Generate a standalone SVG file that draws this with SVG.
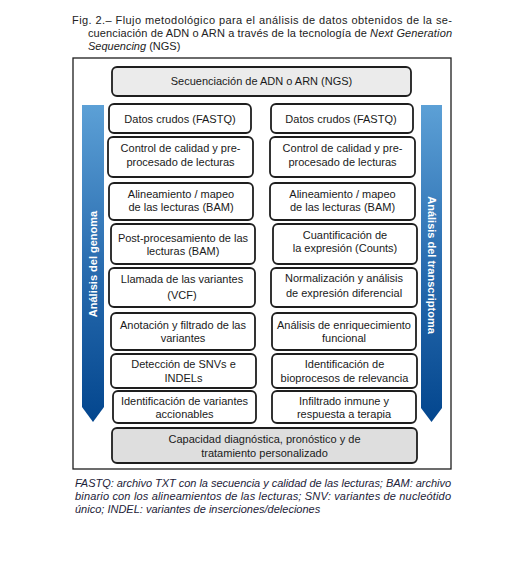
<svg xmlns="http://www.w3.org/2000/svg" width="511" height="567" viewBox="0 0 511 567">
<defs>
<linearGradient id="bar" x1="0" y1="0" x2="0" y2="1">
<stop offset="0" stop-color="#5ca0d6"/>
<stop offset="0.5" stop-color="#2a6db0"/>
<stop offset="1" stop-color="#03468e"/>
</linearGradient>
<style>
text{font-family:"Liberation Sans",Arial,sans-serif;}
.cap{font-size:11px;fill:#222;}
.foot{font-size:11px;fill:#1c2238;font-style:italic;}
.box{fill:#fff;stroke:#1e1e1e;stroke-width:1.8;}
.t{font-size:11px;fill:#1a1a1a;text-anchor:middle;}
.bar{fill:url(#bar);}
.bt{font-size:11px;font-weight:bold;fill:#fff;text-anchor:middle;}
</style>
</defs>
<rect width="511" height="567" fill="#fff"/>
<text class="cap" x="72" y="24" textLength="380" lengthAdjust="spacing">Fig. 2.– Flujo metodológico para el análisis de datos obtenidos de la se-</text>
<text class="cap" x="88" y="37" textLength="364" lengthAdjust="spacing">cuenciación de ADN o ARN a través de la tecnología de <tspan font-style="italic">Next Generation</tspan></text>
<text class="cap" x="88" y="50"><tspan font-style="italic">Sequencing</tspan> (NGS)</text>
<rect x="73" y="58" width="378" height="411" fill="#fff" stroke="#1e1e1e" stroke-width="1.3"/>
<g id="bar-genoma">
<polygon class="bar" points="82,105 104,105 104,407 93,422 82,407"/>
<text class="bt" transform="translate(97,264) rotate(-90)">Análisis del genoma</text>
</g>
<g id="bar-transcriptoma">
<polygon class="bar" points="421,105 442,105 442,408 431.5,422 421,408"/>
<text class="bt" transform="translate(427.5,265) rotate(90)">Análisis del transcriptoma</text>
</g>
<g id="ngs"><rect class="box" x="112" y="67" width="299" height="29" rx="5" fill="#ebebeb" style="fill:#ebebeb"/><text class="t" x="261.5" y="85">Secuenciación de ADN o ARN (NGS)</text></g>
<g id="l1"><rect class="box" x="109" y="104" width="142" height="29" rx="5"/><text class="t" x="180" y="122.5">Datos crudos (FASTQ)</text></g>
<g id="l2"><rect class="box" x="108" y="137" width="145" height="40" rx="5"/><text class="t" x="180.5" y="152">Control de calidad y pre-</text><text class="t" x="180.5" y="165.5">procesado de lecturas</text></g>
<g id="l3"><rect class="box" x="109" y="183" width="144" height="37" rx="5"/><text class="t" x="181" y="198">Alineamiento / mapeo</text><text class="t" x="181" y="211">de las lecturas (BAM)</text></g>
<g id="l4"><rect class="box" x="111" y="224" width="144" height="40" rx="5"/><text class="t" x="183" y="242">Post-procesamiento de las</text><text class="t" x="183" y="255">lecturas (BAM)</text></g>
<g id="l5"><rect class="box" x="109" y="268" width="146" height="39" rx="5"/><text class="t" x="182" y="283">Llamada de las variantes</text><text class="t" x="182" y="299">(VCF)</text></g>
<g id="l6"><rect class="box" x="111" y="313" width="144" height="37" rx="5"/><text class="t" x="183" y="329">Anotación y filtrado de las</text><text class="t" x="183" y="342">variantes</text></g>
<g id="l7"><rect class="box" x="111" y="354" width="145" height="34" rx="5"/><text class="t" x="183.5" y="368">Detección de SNVs e</text><text class="t" x="183.5" y="382">INDELs</text></g>
<g id="l8"><rect class="box" x="113" y="391" width="143" height="32" rx="5"/><text class="t" x="184.5" y="405">Identificación de variantes</text><text class="t" x="184.5" y="418">accionables</text></g>
<g id="r1"><rect class="box" x="271" y="104" width="142" height="29" rx="5"/><text class="t" x="341" y="122.5">Datos crudos (FASTQ)</text></g>
<g id="r2"><rect class="box" x="270" y="137" width="145" height="40" rx="5"/><text class="t" x="342.5" y="152">Control de calidad y pre-</text><text class="t" x="342.5" y="165.5">procesado de lecturas</text></g>
<g id="r3"><rect class="box" x="270" y="183" width="145" height="37" rx="5"/><text class="t" x="342.5" y="198">Alineamiento / mapeo</text><text class="t" x="342.5" y="211">de las lecturas (BAM)</text></g>
<g id="r4"><rect class="box" x="273" y="224" width="144" height="40" rx="5"/><text class="t" x="345" y="239">Cuantificación de</text><text class="t" x="345" y="252">la expresión (Counts)</text></g>
<g id="r5"><rect class="box" x="271" y="268" width="146" height="39" rx="5"/><text class="t" x="344" y="282">Normalización y análisis</text><text class="t" x="344" y="297">de expresión diferencial</text></g>
<g id="r6"><rect class="box" x="272" y="313" width="144" height="37" rx="5"/><text class="t" x="344" y="329">Análisis de enriquecimiento</text><text class="t" x="344" y="342">funcional</text></g>
<g id="r7"><rect class="box" x="272" y="354" width="145" height="34" rx="5"/><text class="t" x="344.5" y="368">Identificación de</text><text class="t" x="344.5" y="382">bioprocesos de relevancia</text></g>
<g id="r8"><rect class="box" x="272" y="391" width="144" height="32" rx="5"/><text class="t" x="344" y="405">Infiltrado inmune y</text><text class="t" x="344" y="418">respuesta a terapia</text></g>
<g id="capacidad"><rect class="box" x="112" y="428" width="305" height="35" rx="5" style="fill:#dedede"/><text class="t" x="264.5" y="443">Capacidad diagnóstica, pronóstico y de</text><text class="t" x="264.5" y="456.5">tratamiento personalizado</text></g>
<g id="connectors"></g>
<text class="foot" x="75" y="487" textLength="376" lengthAdjust="spacing">FASTQ: archivo TXT con la secuencia y calidad de las lecturas; BAM: archivo</text>
<text class="foot" x="75" y="500" textLength="376" lengthAdjust="spacing">binario con los alineamientos de las lecturas; SNV: variantes de nucleótido</text>
<text class="foot" x="75" y="513">único; INDEL: variantes de inserciones/deleciones</text>
</svg>
